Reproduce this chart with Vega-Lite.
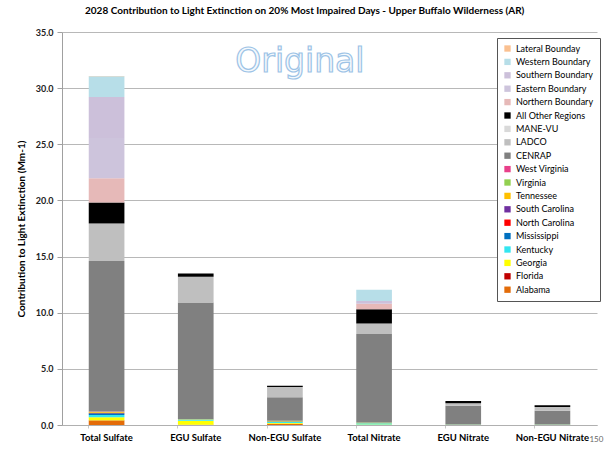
{
  "$schema": "https://vega.github.io/schema/vega-lite/v6.json",
  "width": 535,
  "height": 393,
  "autosize": {"type": "none"},
  "padding": {"left": 62, "top": 32, "right": 8, "bottom": 30},
  "background": "white",
  "title": {
    "text": "2028 Contribution to Light Extinction on 20% Most Impaired Days - Upper Buffalo Wilderness (AR)",
    "anchor": "start",
    "frame": "group",
    "dx": 23,
    "offset": 12,
    "font": "Lato",
    "fontSize": 10,
    "fontWeight": "bold",
    "color": "#000"
  },
  "datasets": {
    "bars": [
      {"cat": "Total Sulfate", "src": "Alabama", "ord": 1, "val": 0.35},
      {"cat": "Total Sulfate", "src": "Florida", "ord": 2, "val": 0.05},
      {"cat": "Total Sulfate", "src": "Georgia", "ord": 3, "val": 0.3},
      {"cat": "Total Sulfate", "src": "Kentucky", "ord": 4, "val": 0.2},
      {"cat": "Total Sulfate", "src": "Mississippi", "ord": 5, "val": 0.15},
      {"cat": "Total Sulfate", "src": "North Carolina", "ord": 6, "val": 0.02},
      {"cat": "Total Sulfate", "src": "South Carolina", "ord": 7, "val": 0.02},
      {"cat": "Total Sulfate", "src": "Tennessee", "ord": 8, "val": 0.08},
      {"cat": "Total Sulfate", "src": "Virginia", "ord": 9, "val": 0.02},
      {"cat": "Total Sulfate", "src": "West Virginia", "ord": 10, "val": 0.02},
      {"cat": "Total Sulfate", "src": "CENRAP", "ord": 11, "val": 13.4},
      {"cat": "Total Sulfate", "src": "LADCO", "ord": 12, "val": 3.3},
      {"cat": "Total Sulfate", "src": "MANE-VU", "ord": 13, "val": 0.03},
      {"cat": "Total Sulfate", "src": "All Other Regions", "ord": 14, "val": 1.88},
      {"cat": "Total Sulfate", "src": "Northern Boundary", "ord": 15, "val": 2.15},
      {"cat": "Total Sulfate", "src": "Eastern Boundary", "ord": 16, "val": 3.6},
      {"cat": "Total Sulfate", "src": "Southern Boundary", "ord": 17, "val": 3.65},
      {"cat": "Total Sulfate", "src": "Western Boundary", "ord": 18, "val": 1.85},
      {"cat": "Total Sulfate", "src": "Lateral Bounday", "ord": 19, "val": 0.02},

      {"cat": "EGU Sulfate", "src": "Alabama", "ord": 1, "val": 0.02},
      {"cat": "EGU Sulfate", "src": "Georgia", "ord": 3, "val": 0.35},
      {"cat": "EGU Sulfate", "src": "Kentucky", "ord": 4, "val": 0.1},
      {"cat": "EGU Sulfate", "src": "Mississippi", "ord": 5, "val": 0.02},
      {"cat": "EGU Sulfate", "src": "Tennessee", "ord": 8, "val": 0.02},
      {"cat": "EGU Sulfate", "src": "Virginia", "ord": 9, "val": 0.02},
      {"cat": "EGU Sulfate", "src": "CENRAP", "ord": 11, "val": 10.37},
      {"cat": "EGU Sulfate", "src": "LADCO", "ord": 12, "val": 2.3},
      {"cat": "EGU Sulfate", "src": "All Other Regions", "ord": 14, "val": 0.3},

      {"cat": "Non-EGU Sulfate", "src": "Alabama", "ord": 1, "val": 0.12},
      {"cat": "Non-EGU Sulfate", "src": "Georgia", "ord": 3, "val": 0.05},
      {"cat": "Non-EGU Sulfate", "src": "Kentucky", "ord": 4, "val": 0.1},
      {"cat": "Non-EGU Sulfate", "src": "Mississippi", "ord": 5, "val": 0.05},
      {"cat": "Non-EGU Sulfate", "src": "Tennessee", "ord": 8, "val": 0.05},
      {"cat": "Non-EGU Sulfate", "src": "CENRAP", "ord": 11, "val": 2.1},
      {"cat": "Non-EGU Sulfate", "src": "LADCO", "ord": 12, "val": 0.92},
      {"cat": "Non-EGU Sulfate", "src": "All Other Regions", "ord": 14, "val": 0.1},

      {"cat": "Total Nitrate", "src": "Georgia", "ord": 3, "val": 0.05},
      {"cat": "Total Nitrate", "src": "Kentucky", "ord": 4, "val": 0.1},
      {"cat": "Total Nitrate", "src": "Tennessee", "ord": 8, "val": 0.03},
      {"cat": "Total Nitrate", "src": "Virginia", "ord": 9, "val": 0.05},
      {"cat": "Total Nitrate", "src": "CENRAP", "ord": 11, "val": 7.87},
      {"cat": "Total Nitrate", "src": "LADCO", "ord": 12, "val": 0.95},
      {"cat": "Total Nitrate", "src": "All Other Regions", "ord": 14, "val": 1.25},
      {"cat": "Total Nitrate", "src": "Northern Boundary", "ord": 15, "val": 0.5},
      {"cat": "Total Nitrate", "src": "Southern Boundary", "ord": 17, "val": 0.25},
      {"cat": "Total Nitrate", "src": "Western Boundary", "ord": 18, "val": 1.0},

      {"cat": "EGU Nitrate", "src": "Georgia", "ord": 3, "val": 0.02},
      {"cat": "EGU Nitrate", "src": "Kentucky", "ord": 4, "val": 0.03},
      {"cat": "EGU Nitrate", "src": "CENRAP", "ord": 11, "val": 1.67},
      {"cat": "EGU Nitrate", "src": "LADCO", "ord": 12, "val": 0.21},
      {"cat": "EGU Nitrate", "src": "All Other Regions", "ord": 14, "val": 0.21},

      {"cat": "Non-EGU Nitrate", "src": "Georgia", "ord": 3, "val": 0.02},
      {"cat": "Non-EGU Nitrate", "src": "Kentucky", "ord": 4, "val": 0.03},
      {"cat": "Non-EGU Nitrate", "src": "CENRAP", "ord": 11, "val": 1.22},
      {"cat": "Non-EGU Nitrate", "src": "LADCO", "ord": 12, "val": 0.33},
      {"cat": "Non-EGU Nitrate", "src": "All Other Regions", "ord": 14, "val": 0.15}
    ],
    "notes": [
      {"cat": "Non-EGU Sulfate", "y": 32.3, "label": "Original"}
    ],
    "page": [
      {"cat": "Non-EGU Nitrate", "y": -1.35, "label": "150"}
    ]
  },
  "layer": [
    {
      "data": {"name": "bars"},
      "mark": {"type": "bar"},
      "encoding": {
        "x": {
          "field": "cat",
          "type": "nominal",
          "scale": {
            "domain": ["Total Sulfate", "EGU Sulfate", "Non-EGU Sulfate", "Total Nitrate", "EGU Nitrate", "Non-EGU Nitrate"],
            "paddingInner": 0.6,
            "paddingOuter": 0.3
          },
          "axis": {
            "title": null,
            "labelAngle": 0,
            "labelFont": "Lato",
            "labelFontSize": 9.5,
            "labelFontWeight": "bold",
            "labelColor": "#000",
            "labelPadding": 4,
            "bandPosition": 0,
            "ticks": true,
            "tickSize": 3,
            "tickColor": "#c8c8c8",
            "domainColor": "#b0b0b0",
            "grid": false
          }
        },
        "y": {
          "field": "val",
          "type": "quantitative",
          "aggregate": "sum",
          "stack": "zero",
          "scale": {"domain": [0, 35], "nice": false},
          "axis": {
            "title": "Contribution to Light Extinction (Mm-1)",
            "titleFont": "Lato",
            "titleFontSize": 10,
            "titleFontWeight": "bold",
            "titleColor": "#000",
            "titlePadding": 9,
            "values": [0, 5, 10, 15, 20, 25, 30, 35],
            "format": ".1f",
            "labelFont": "Lato",
            "labelFontSize": 9,
            "labelFontWeight": "bold",
            "labelColor": "#222",
            "labelPadding": 4,
            "tickSize": 5,
            "tickColor": "#a0a0a0",
            "domainColor": "#a0a0a0",
            "gridColor": "#b8b8b8",
            "gridWidth": 1
          }
        },
        "color": {
          "field": "src",
          "type": "nominal",
          "scale": {
            "domain": ["Lateral Bounday", "Western Boundary", "Southern Boundary", "Eastern Boundary", "Northern Boundary", "All Other Regions", "MANE-VU", "LADCO", "CENRAP", "West Virginia", "Virginia", "Tennessee", "South Carolina", "North Carolina", "Mississippi", "Kentucky", "Georgia", "Florida", "Alabama"],
            "range": ["#fac090", "#b7dee8", "#ccc0da", "#cdc4dc", "#e6b9b8", "#000000", "#d9d9d9", "#bfbfbf", "#808080", "#e8408a", "#92d050", "#ffc000", "#7030a0", "#ff0000", "#0070c0", "#33e6f0", "#ffff00", "#c00000", "#e36c09"]
          },
          "legend": {
            "title": null,
            "orient": "none",
            "legendX": 435,
            "legendY": 6,
            "symbolType": "square",
            "symbolSize": 40,
            "symbolStrokeWidth": 0,
            "labelFont": "Lato",
            "labelFontSize": 9,
            "labelColor": "#000",
            "rowPadding": 3.4,
            "padding": 6,
            "fillColor": "white",
            "strokeColor": "#555",
            "labelLimit": 120
          }
        },
        "order": {"field": "ord", "type": "quantitative", "sort": "ascending"}
      }
    },
    {
      "data": {"name": "notes"},
      "mark": {
        "type": "text",
        "font": "DejaVu Sans",
        "fontSize": 33,
        "fill": "#f4f9fd",
        "stroke": "#9dc3e6",
        "strokeWidth": 1.2,
        "align": "center",
        "baseline": "middle",
        "dx": 15
      },
      "encoding": {
        "x": {"field": "cat", "type": "nominal"},
        "y": {"field": "y", "type": "quantitative"},
        "text": {"field": "label"}
      }
    },
    {
      "data": {"name": "page"},
      "mark": {
        "type": "text",
        "font": "Lato",
        "fontSize": 8,
        "color": "#666",
        "align": "left",
        "baseline": "middle",
        "dx": 37
      },
      "encoding": {
        "x": {"field": "cat", "type": "nominal"},
        "y": {"field": "y", "type": "quantitative"},
        "text": {"field": "label"}
      }
    }
  ],
  "config": {
    "view": {"stroke": null},
    "axis": {"gridColor": "#b8b8b8"}
  }
}
